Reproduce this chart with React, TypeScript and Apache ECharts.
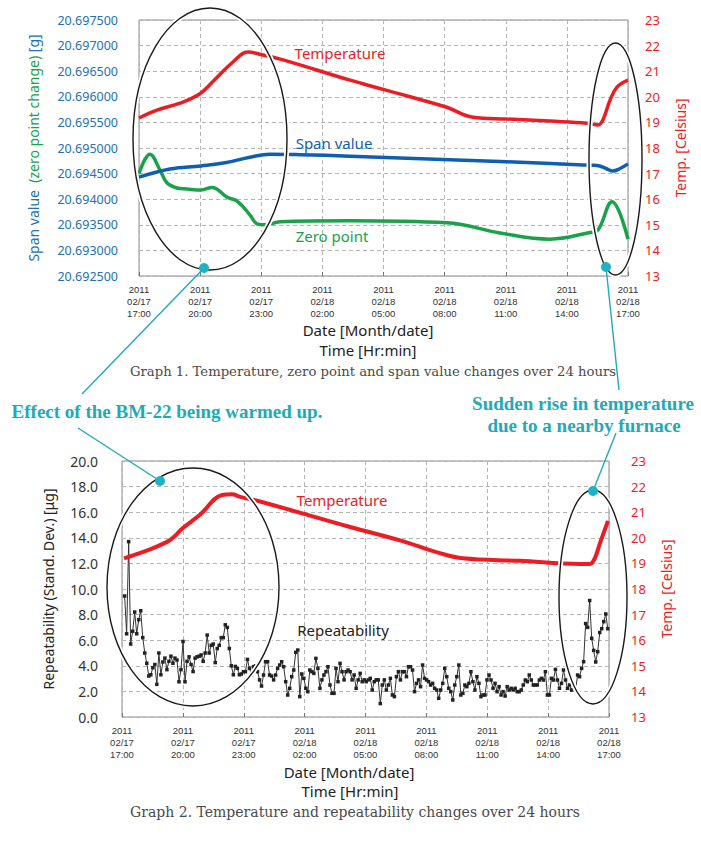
import React, { useEffect, useRef } from 'react';
import * as echarts from 'echarts';

// x axis: hours since 02/17 17:00
const tickYears = ['2011', '2011', '2011', '2011', '2011', '2011', '2011', '2011', '2011'];
const tickDates = ['02/17', '02/17', '02/17', '02/18', '02/18', '02/18', '02/18', '02/18', '02/18'];
const tickTimes = ['17:00', '20:00', '23:00', '02:00', '05:00', '08:00', '11:00', '14:00', '17:00'];

// Graph 1
const temp1Hours = [0, 0.88, 2.01, 2.99, 3.63, 4.61, 5.35, 6.09, 7.07, 10.36, 12.07, 15.07, 16.39, 18.06, 20.17, 21.99, 22.53, 22.77, 23.12, 23.46, 24];
const temp1Values = [19.17, 19.48, 19.75, 20.12, 20.6, 21.36, 21.75, 21.63, 21.44, 20.65, 20.27, 19.6, 19.2, 19.13, 19.05, 18.97, 18.9, 19.1, 19.87, 20.38, 20.65];

const spanHours = [0, 1.52, 3.04, 4.22, 5.45, 6.43, 7.9, 10.36, 18.06, 21.79, 22.48, 22.92, 23.26, 23.61, 24];
const spanValues = [20.69443, 20.69459, 20.69465, 20.69471, 20.69482, 20.69488, 20.69487, 20.69484, 20.69473, 20.69467, 20.69466, 20.6946, 20.69455, 20.6946, 20.69469];

const zeroHours = [0, 0.54, 1.03, 1.37, 1.86, 2.36, 3.04, 3.58, 4.32, 4.86, 5.45, 5.79, 6.18, 6.92, 10.36, 15.12, 17.72, 20.17, 22.13, 22.53, 23.21, 24];
const zeroValues = [20.6945, 20.69488, 20.69457, 20.69432, 20.69422, 20.6942, 20.69418, 20.69423, 20.69404, 20.69395, 20.69369, 20.69352, 20.6935, 20.69356, 20.69358, 20.69354, 20.69334, 20.69322, 20.69335, 20.6934, 20.69395, 20.69322];

// Graph 2
const temp2Hours = [0.1, 1.38, 2.22, 2.51, 3.0, 3.84, 4.93, 5.42, 5.82, 6.8, 11.24, 13.7, 15.67, 16.8, 19.6, 22.57, 23.06, 23.3, 23.56, 23.95];
const temp2Values = [19.2, 19.55, 19.84, 20.0, 20.38, 20.9, 21.67, 21.7, 21.6, 21.42, 20.42, 19.9, 19.4, 19.2, 19.1, 18.98, 18.98, 19.2, 19.8, 20.66];

// repeatability, one reading about every 6 minutes
const repeatStartHour = 0.13;
const repeatEndHour = 23.94;
const repeat17to23 = [
  9.45, 6.5, 13.7, 5.7, 6.7, 8.2, 6.5, 7.6, 8.3, 6.2,
  5.0, 4.2, 3.2, 3.3, 3.85, 4.1, 2.55, 5.0, 3.3, 4.3,
  4.6, 3.7, 4.35, 4.75, 4.2, 4.6, 4.45, 2.75, 3.7, 5.9,
  2.75, 4.35, 4.7, 4.1, 3.55, 4.6, 4.7, 4.75, 4.85, 4.35,
  5.0, 6.4, 5.0, 5.6, 5.7, 4.25, 5.35, 5.6, 6.2, 6.2,
  7.2, 7.0, 5.35, 4.0, 3.3, 3.95, 3.8, 3.3,
];
const repeat23to05 = [
  3.36, 3.54, 3.54, 4.5, 3.8, 3.28, 3.93, 4.0, 3.54, 2.9,
  2.42, 3.28, 4.32, 4.32, 3.28, 3.2, 2.9, 3.28, 3.8, 4.06,
  4.32, 3.93, 2.76, 1.72, 2.24, 3.15, 3.67, 5.05, 5.23, 1.59,
  3.36, 3.02, 2.24, 1.98, 3.67, 3.54, 3.41, 4.58, 3.8, 2.24,
  2.9, 3.28, 3.54, 3.93, 2.5, 1.85, 1.85, 3.8, 2.76, 4.19,
  3.54, 2.9, 3.54, 3.67, 3.54, 2.9, 3.28, 2.24, 2.9, 3.41,
  2.76,
];
const repeat05to11 = [
  2.9, 2.76, 2.9, 3.02, 2.11, 2.76, 2.9, 2.9, 1.05, 2.5,
  2.9, 2.11, 2.5, 3.02, 1.72, 1.59, 3.15, 3.54, 2.9, 3.54,
  3.54, 3.15, 3.93, 3.93, 3.67, 1.98, 2.63, 2.9, 2.37, 4.06,
  3.02, 2.9, 2.76, 2.5, 2.63, 2.24, 2.11, 1.46, 2.11, 2.63,
  3.8, 3.15, 2.24, 1.98, 1.33, 2.5, 3.15, 4.06, 1.72, 1.85,
  2.5, 2.37, 2.63, 3.54, 2.76, 2.11, 3.15, 2.63, 1.59, 1.72,
  1.72, 2.9, 3.28,
];
const repeat11to17 = [
  2.89, 2.24, 2.63, 1.98, 2.37, 1.72, 1.98, 1.64, 2.37, 2.11,
  2.24, 2.11, 2.24, 1.98, 1.98, 2.11, 2.5, 2.89, 2.76, 3.28,
  2.89, 2.5, 2.5, 2.5, 2.89, 3.02, 2.89, 3.54, 1.72, 1.72,
  3.02, 2.89, 3.72, 2.89, 2.24, 2.63, 3.67, 2.89, 2.24, 2.5,
  2.11, 2.37, 2.11, 3.28, 3.15, 3.8, 4.32,
  7.3, 7.0, 9.1, 6.15, 5.2, 4.3, 5.1, 6.6, 6.9, 7.45, 8.05, 6.9,
];

const RED = '#ec1c24';
const BLUE = '#0f5fb0';
const AXIS_BLUE = '#2470b3';
const GREEN = '#19a24a';
const CYAN = '#22a9b8';
const SANS = '"Noto Sans", "Open Sans", sans-serif';
const TICK_FONT = '"Liberation Sans", Arial, sans-serif';
const SERIF = '"DejaVu Serif", "Liberation Serif", serif';
const BOLD_SERIF = '"Liberation Serif", "DejaVu Serif", serif';

const pairs = (xs: number[], ys: number[]) => xs.map((x, i) => [x, ys[i]]);

const makeXAxis = (gridIndex: number) => ({
  type: 'value',
  gridIndex,
  min: 0,
  max: 24,
  interval: 3,
  axisLine: { show: false },
  axisTick: { show: true, inside: true, length: 4, lineStyle: { color: '#777' } },
  splitLine: { show: true, lineStyle: { type: [4, 3], color: '#b5b5b5', width: 1 } },
  axisLabel: {
    margin: 7,
    fontSize: 9.5,
    lineHeight: 12,
    color: '#333',
    fontFamily: TICK_FONT,
    formatter: (v: number) => {
      const i = Math.round(v / 3);
      return `${tickYears[i]}\n${tickDates[i]}\n${tickTimes[i]}`;
    },
  },
});

const tempAxis = (gridIndex: number, nameGap: number, margin: number) => ({
  type: 'value',
  gridIndex,
  position: 'right',
  min: 13,
  max: 23,
  interval: 1,
  axisLine: { show: false },
  axisTick: { show: false },
  splitLine: { show: false },
  axisLabel: { color: RED, fontSize: 13, fontFamily: SANS, margin },
  name: 'Temp. [Celsius]',
  nameLocation: 'middle',
  nameRotate: 90,
  nameGap,
  nameTextStyle: { color: RED, fontSize: 14, fontFamily: SANS },
});

const ellipse = (cx: number, cy: number, rx: number, ry: number) => [
  { type: 'ellipse', z: 20, silent: true, shape: { cx, cy, rx, ry }, style: { fill: 'none', stroke: '#fff', lineWidth: 5 } },
  { type: 'ellipse', z: 21, silent: true, shape: { cx, cy, rx, ry }, style: { fill: 'none', stroke: '#1a1a1a', lineWidth: 1.4 } },
];

const label = (text: string, x: number, y: number, font: string, fill: string) => ({
  type: 'text',
  z: 30,
  x,
  y,
  style: { text, font, fill, textAlign: 'center', textVerticalAlign: 'middle', align: 'center', verticalAlign: 'middle' },
});

const cyanLine = (x1: number, y1: number, x2: number, y2: number) => ({
  type: 'line',
  z: 25,
  shape: { x1, y1, x2, y2 },
  style: { stroke: CYAN, lineWidth: 1.4 },
});

const dot = (cx: number, cy: number) => ({
  type: 'circle',
  z: 26,
  shape: { cx, cy, r: 5 },
  style: { fill: '#1db3c4' },
});

export default function App() {
  const chartRef = useRef<HTMLDivElement>(null);

  useEffect(() => {
    if (!chartRef.current) return;
    const chart = echarts.init(chartRef.current, undefined, { renderer: 'svg' });

    const repeatValues = [...repeat17to23, ...repeat23to05, ...repeat05to11, ...repeat11to17];
    const step = (repeatEndHour - repeatStartHour) / (repeatValues.length - 1);
    const repeatData = repeatValues.map((v, i) => [repeatStartHour + i * step, v]);

    const option = {
      animation: false,
      backgroundColor: '#fff',
      grid: [
        { left: 139, top: 20, width: 489, height: 256, show: true, borderColor: '#8a8a8a', borderWidth: 1, backgroundColor: 'transparent' },
        { left: 122, top: 461, width: 487, height: 256, show: true, borderColor: '#8a8a8a', borderWidth: 1, backgroundColor: 'transparent' },
      ],
      xAxis: [makeXAxis(0), makeXAxis(1)],
      yAxis: [
        {
          type: 'value',
          gridIndex: 0,
          min: 20.6925,
          max: 20.6975,
          interval: 0.0005,
          axisLine: { show: false },
          axisTick: { show: false },
          splitLine: { show: true, lineStyle: { type: [4, 3], color: '#b5b5b5', width: 1 } },
          axisLabel: {
            color: AXIS_BLUE,
            fontSize: 12.5,
            fontFamily: SANS,
            margin: 21,
            formatter: (v: number) => (Math.round(v * 20000) / 20000).toFixed(6),
          },
          name: '{b|Span value  }{g|(zero point change)}{b| [g]}',
          nameLocation: 'middle',
          nameRotate: 90,
          nameGap: 99,
          nameTextStyle: {
            rich: {
              b: { color: AXIS_BLUE, fontSize: 14, fontFamily: SANS },
              g: { color: GREEN, fontSize: 14, fontFamily: SANS },
            },
          },
        },
        tempAxis(0, 45, 17),
        {
          type: 'value',
          gridIndex: 1,
          min: 0,
          max: 20,
          interval: 2,
          axisLine: { show: false },
          axisTick: { show: false },
          splitLine: { show: true, lineStyle: { type: [4, 3], color: '#b5b5b5', width: 1 } },
          axisLabel: { color: '#333', fontSize: 14, fontFamily: SANS, margin: 24, formatter: (v: number) => v.toFixed(1) },
          name: 'Repeatability (Stand. Dev.) [μg]',
          nameLocation: 'middle',
          nameRotate: 90,
          nameGap: 67,
          nameTextStyle: { color: '#222', fontSize: 14, fontFamily: SANS },
        },
        tempAxis(1, 50, 22),
      ],
      series: [
        {
          name: 'Zero point',
          type: 'line',
          xAxisIndex: 0,
          yAxisIndex: 0,
          data: pairs(zeroHours, zeroValues),
          smooth: 0.4,
          showSymbol: false,
          lineStyle: { color: GREEN, width: 3.5 },
          z: 3,
        },
        {
          name: 'Span value',
          type: 'line',
          xAxisIndex: 0,
          yAxisIndex: 0,
          data: pairs(spanHours, spanValues),
          smooth: 0.4,
          showSymbol: false,
          lineStyle: { color: BLUE, width: 3.5 },
          z: 3,
        },
        {
          name: 'Temperature',
          type: 'line',
          xAxisIndex: 0,
          yAxisIndex: 1,
          data: pairs(temp1Hours, temp1Values),
          smooth: 0.4,
          showSymbol: false,
          lineStyle: { color: RED, width: 3.5 },
          z: 3,
        },
        {
          name: 'Repeatability',
          type: 'line',
          xAxisIndex: 1,
          yAxisIndex: 2,
          data: repeatData,
          symbol: 'rect',
          symbolSize: 3.5,
          showSymbol: true,
          showAllSymbol: true,
          itemStyle: { color: '#222' },
          lineStyle: { color: '#333', width: 1 },
          z: 3,
        },
        {
          name: 'Temperature 2',
          type: 'line',
          xAxisIndex: 1,
          yAxisIndex: 3,
          data: pairs(temp2Hours, temp2Values),
          smooth: 0.4,
          showSymbol: false,
          lineStyle: { color: RED, width: 4 },
          z: 4,
        },
      ],
      graphic: {
        elements: [
          ...ellipse(210, 139, 77, 131),
          ...ellipse(615.5, 159, 26.5, 116),
          ...ellipse(193, 587, 86, 119),
          ...ellipse(593, 597, 34, 107),
          label('Temperature', 340, 53, `15px ${SANS}`, RED),
          label('Span value', 334, 143, `15px ${SANS}`, BLUE),
          label('Zero point', 332, 236, `15px ${SANS}`, GREEN),
          label('Date [Month/date]', 368, 330, `15px ${SANS}`, '#222'),
          label('Time [Hr:min]', 368, 350, `15px ${SANS}`, '#222'),
          label('Graph 1. Temperature, zero point and span value changes over 24 hours', 373, 371, `13.2px ${SERIF}`, '#4a4a4a'),
          label('Effect of the BM-22 being warmed up.', 167, 411, `bold 19px ${BOLD_SERIF}`, CYAN),
          label('Sudden rise in temperature', 583, 403, `bold 19px ${BOLD_SERIF}`, CYAN),
          label('due to a nearby furnace', 584, 425, `bold 19px ${BOLD_SERIF}`, CYAN),
          label('Temperature', 342, 500, `15px ${SANS}`, RED),
          label('Repeatability', 343, 630, `15px ${SANS}`, '#222'),
          label('Date [Month/date]', 349, 772, `15px ${SANS}`, '#222'),
          label('Time [Hr:min]', 350, 791, `15px ${SANS}`, '#222'),
          label('Graph 2. Temperature and repeatability changes over 24 hours', 355, 812, `14px ${SERIF}`, '#4a4a4a'),
          cyanLine(204, 268, 82, 394),
          cyanLine(78, 428, 160, 481),
          cyanLine(606, 267, 619, 390),
          cyanLine(616, 433, 593, 491),
          dot(204, 268),
          dot(160, 481),
          dot(606, 267),
          dot(593, 491),
        ],
      },
    };

    chart.setOption(option as any);

    return () => {
      chart.dispose();
    };
  }, []);

  return (
    <div
      ref={chartRef}
      style={{ position: 'fixed', left: 0, top: 0, width: 701, height: 845, background: '#fff' }}
    />
  );
}
